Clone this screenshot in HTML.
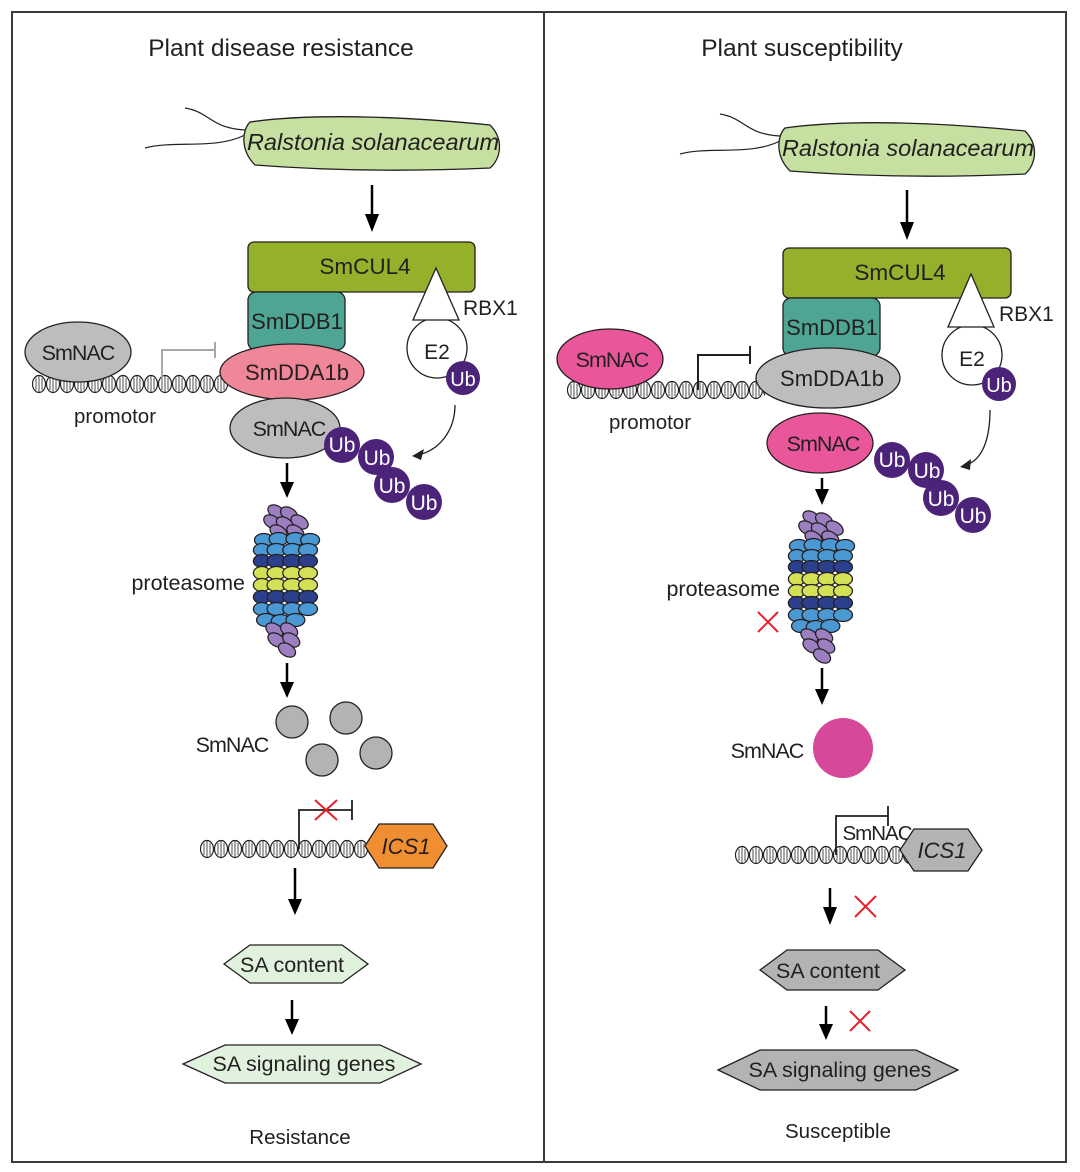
<!DOCTYPE html>
<html><head><meta charset="utf-8"><style>
html,body{margin:0;padding:0;background:#fff}
svg{display:block}
text{font-family:"Liberation Sans",Arial,sans-serif;fill:#231f20}
</style></head><body>
<svg width="1080" height="1172" viewBox="0 0 1080 1172" xmlns="http://www.w3.org/2000/svg">
<defs>
<pattern id="dna" x="0" y="0" width="14" height="22" patternUnits="userSpaceOnUse">
<rect width="14" height="22" fill="#fff"/>
<ellipse cx="7" cy="11" rx="6.5" ry="8.5" fill="#fff" stroke="#231f20" stroke-width="1.2"/>
<line x1="4" y1="5" x2="4" y2="17" stroke="#231f20" stroke-width="0.8"/>
<line x1="7" y1="3" x2="7" y2="19" stroke="#231f20" stroke-width="0.8"/>
<line x1="10" y1="5" x2="10" y2="17" stroke="#231f20" stroke-width="0.8"/>
</pattern>
<g id="prot" stroke="#231f20" stroke-width="1.2">
<g fill="#9b7fc0">
<ellipse cx="-10" cy="-68" rx="9" ry="6" transform="rotate(35 -10 -68)"/>
<ellipse cx="2" cy="-66" rx="9" ry="6" transform="rotate(35 2 -66)"/>
<ellipse cx="-14" cy="-58" rx="9" ry="6" transform="rotate(35 -14 -58)"/>
<ellipse cx="-2" cy="-56" rx="9" ry="6" transform="rotate(35 -2 -56)"/>
<ellipse cx="12" cy="-58" rx="9" ry="6" transform="rotate(35 12 -58)"/>
<ellipse cx="8" cy="-48" rx="9" ry="6" transform="rotate(35 8 -48)"/>
<ellipse cx="-8" cy="-48" rx="9" ry="6" transform="rotate(35 -8 -48)"/>
</g>
<g fill="#4a98d4">
<ellipse cx="-22" cy="-40" rx="9" ry="6.5"/><ellipse cx="-8" cy="-41" rx="9" ry="6.5"/><ellipse cx="8" cy="-41" rx="9" ry="6.5"/><ellipse cx="22" cy="-40" rx="9" ry="6.5"/>
<ellipse cx="-24" cy="-30" rx="8" ry="6.5"/><ellipse cx="-10" cy="-30" rx="9" ry="6.5"/><ellipse cx="5" cy="-30" rx="9" ry="6.5"/><ellipse cx="20" cy="-30" rx="9" ry="6.5"/>
</g>
<g fill="#2b3f8c">
<ellipse cx="-24" cy="-19" rx="8" ry="6.5"/><ellipse cx="-10" cy="-19" rx="9" ry="6.5"/><ellipse cx="5" cy="-19" rx="9" ry="6.5"/><ellipse cx="20" cy="-19" rx="9" ry="6.5"/>
</g>
<g fill="#d4e157">
<ellipse cx="-24" cy="-7" rx="8" ry="6.5"/><ellipse cx="-10" cy="-7" rx="9" ry="6.5"/><ellipse cx="5" cy="-7" rx="9" ry="6.5"/><ellipse cx="20" cy="-7" rx="9" ry="6.5"/>
<ellipse cx="-24" cy="5" rx="8" ry="6.5"/><ellipse cx="-10" cy="5" rx="9" ry="6.5"/><ellipse cx="5" cy="5" rx="9" ry="6.5"/><ellipse cx="20" cy="5" rx="9" ry="6.5"/>
</g>
<g fill="#2b3f8c">
<ellipse cx="-24" cy="17" rx="8" ry="6.5"/><ellipse cx="-10" cy="17" rx="9" ry="6.5"/><ellipse cx="5" cy="17" rx="9" ry="6.5"/><ellipse cx="20" cy="17" rx="9" ry="6.5"/>
</g>
<g fill="#4a98d4">
<ellipse cx="-24" cy="29" rx="8" ry="6.5"/><ellipse cx="-10" cy="29" rx="9" ry="6.5"/><ellipse cx="5" cy="29" rx="9" ry="6.5"/><ellipse cx="20" cy="29" rx="9" ry="6.5"/>
<ellipse cx="-20" cy="40" rx="9" ry="6.5"/><ellipse cx="-6" cy="41" rx="9" ry="6.5"/><ellipse cx="8" cy="40" rx="9" ry="6.5"/>
</g>
<g fill="#9b7fc0">
<ellipse cx="-12" cy="50" rx="9" ry="6" transform="rotate(35 -12 50)"/>
<ellipse cx="2" cy="50" rx="9" ry="6" transform="rotate(35 2 50)"/>
<ellipse cx="-10" cy="60" rx="9" ry="6" transform="rotate(35 -10 60)"/>
<ellipse cx="4" cy="60" rx="9" ry="6" transform="rotate(35 4 60)"/>
<ellipse cx="0" cy="70" rx="9" ry="6" transform="rotate(35 0 70)"/>
</g>
</g>
</defs>

<rect x="12" y="12" width="1054" height="1150" fill="none" stroke="#3a3a3a" stroke-width="2"/>
<line x1="544" y1="12" x2="544" y2="1162" stroke="#3a3a3a" stroke-width="2"/>

<!-- ============ LEFT ============ -->
<text x="281" y="56" font-size="24.5" text-anchor="middle">Plant disease resistance</text>
<path d="M145 148 C175 140 215 150 245 135 M185 108 C210 112 210 128 245 130" fill="none" stroke="#231f20" stroke-width="1.2"/>
<path d="M250 122 C320 112 420 118 490 125 C505 140 500 160 490 168 C400 172 320 170 255 165 C240 150 242 130 250 122 Z" fill="#c5e0a0" stroke="#231f20" stroke-width="1.3"/>
<text x="373" y="150" font-size="23.5" font-style="italic" text-anchor="middle">Ralstonia solanacearum</text>
<line x1="372" y1="185" x2="372" y2="218" stroke="#000" stroke-width="2.5"/><path d="M365 214 L379 214 L372 232 Z" fill="#000"/>

<rect x="248" y="242" width="227" height="50" rx="6" fill="#95b02b" stroke="#231f20" stroke-width="1.3"/>
<text x="365" y="274" font-size="22.5" text-anchor="middle">SmCUL4</text>
<rect x="248" y="292" width="97" height="58" rx="8" fill="#4ea594" stroke="#231f20" stroke-width="1.3"/>
<text x="297" y="329" font-size="22" text-anchor="middle">SmDDB1</text>
<circle cx="437" cy="348" r="30" fill="#fff" stroke="#231f20" stroke-width="1.3"/>
<text x="437" y="359" font-size="21" text-anchor="middle">E2</text>
<path d="M436 268 L459 320 L413 320 Z" fill="#fff" stroke="#231f20" stroke-width="1.3"/>
<text x="463" y="315" font-size="21">RBX1</text>
<circle cx="463" cy="378" r="17" fill="#4b2378"/>
<text x="463" y="386" font-size="20" text-anchor="middle" style="fill:#fff">Ub</text>

<g transform="translate(32,373)"><rect width="196" height="22" fill="url(#dna)"/></g>
<ellipse cx="78" cy="352" rx="53" ry="30" fill="#bdbdbd" stroke="#231f20" stroke-width="1.3"/>
<text x="78" y="360" font-size="21.5" text-anchor="middle" letter-spacing="-1">SmNAC</text>
<path d="M162 384 L162 350 L215 350 M215 342 L215 358" fill="none" stroke="#a8a8a8" stroke-width="2"/>
<text x="115" y="423" font-size="20.5" text-anchor="middle">promotor</text>
<ellipse cx="292" cy="372" rx="72" ry="28" fill="#ef8799" stroke="#231f20" stroke-width="1.3"/>
<text x="297" y="380" font-size="22" text-anchor="middle">SmDDA1b</text>
<ellipse cx="285" cy="428" rx="55" ry="30" fill="#bdbdbd" stroke="#231f20" stroke-width="1.3"/>
<text x="289" y="436" font-size="21.5" text-anchor="middle" letter-spacing="-1">SmNAC</text>
<g fill="#4b2378"><circle cx="342" cy="445" r="18"/><circle cx="376" cy="457" r="18"/><circle cx="392" cy="485" r="18"/><circle cx="424" cy="502" r="18"/></g>
<g font-size="21" text-anchor="middle"><text x="342" y="452" style="fill:#fff">Ub</text><text x="377" y="465" style="fill:#fff">Ub</text><text x="392" y="493" style="fill:#fff">Ub</text><text x="424" y="510" style="fill:#fff">Ub</text></g>
<path d="M455 405 C455 430 440 450 418 455" fill="none" stroke="#231f20" stroke-width="1.3"/>
<path d="M412 456 L424 449 L421 460 Z" fill="#231f20"/>

<line x1="287" y1="463" x2="287" y2="485" stroke="#000" stroke-width="2.5"/><path d="M280 482 L294 482 L287 498 Z" fill="#000"/>
<g transform="translate(287,580) scale(1.05,1)"><use href="#prot"/></g>
<text x="245" y="590" font-size="21.5" text-anchor="end">proteasome</text>
<line x1="287" y1="663" x2="287" y2="685" stroke="#000" stroke-width="2.5"/><path d="M280 682 L294 682 L287 698 Z" fill="#000"/>
<g fill="#b3b3b3" stroke="#231f20" stroke-width="1.3"><circle cx="292" cy="722" r="16"/><circle cx="346" cy="718" r="16"/><circle cx="322" cy="760" r="16"/><circle cx="376" cy="753" r="16"/></g>
<text x="232" y="752" font-size="21.5" text-anchor="middle" letter-spacing="-1">SmNAC</text>

<g transform="translate(200,838)"><rect width="175" height="22" fill="url(#dna)"/></g>
<path d="M299 849 L299 810 L352 810 M352 800 L352 820" fill="none" stroke="#231f20" stroke-width="1.8"/>
<path d="M315 800 L337 820 M337 800 L315 820" stroke="#e8202a" stroke-width="2"/>
<path d="M365 846 L379 824 L433 824 L447 846 L433 868 L379 868 Z" fill="#ef8f32" stroke="#231f20" stroke-width="1.3"/>
<text x="406" y="854" font-size="22" font-style="italic" text-anchor="middle">ICS1</text>
<line x1="295" y1="868" x2="295" y2="902" stroke="#000" stroke-width="2.5"/><path d="M288 899 L302 899 L295 915 Z" fill="#000"/>
<path d="M224 964 L250 945 L342 945 L368 964 L342 983 L250 983 Z" fill="#e0f2de" stroke="#231f20" stroke-width="1.3"/>
<text x="292" y="972" font-size="21.5" text-anchor="middle">SA content</text>
<line x1="292" y1="1000" x2="292" y2="1022" stroke="#000" stroke-width="2.5"/><path d="M285 1019 L299 1019 L292 1035 Z" fill="#000"/>
<path d="M183 1064 L225 1045 L380 1045 L421 1064 L380 1083 L225 1083 Z" fill="#e0f2de" stroke="#231f20" stroke-width="1.3"/>
<text x="304" y="1071" font-size="21.5" text-anchor="middle">SA signaling genes</text>
<text x="300" y="1144" font-size="20.5" text-anchor="middle">Resistance</text>

<!-- ============ RIGHT ============ -->
<text x="802" y="56" font-size="24.5" text-anchor="middle">Plant susceptibility</text>
<path d="M680 154 C710 146 750 156 780 141 M720 114 C745 118 745 134 780 136" fill="none" stroke="#231f20" stroke-width="1.2"/>
<path d="M785 128 C855 118 955 124 1025 131 C1040 146 1035 166 1025 174 C935 178 855 176 790 171 C775 156 777 136 785 128 Z" fill="#c5e0a0" stroke="#231f20" stroke-width="1.3"/>
<text x="908" y="156" font-size="23.5" font-style="italic" text-anchor="middle">Ralstonia solanacearum</text>
<line x1="907" y1="190" x2="907" y2="226" stroke="#000" stroke-width="2.5"/><path d="M900 222 L914 222 L907 240 Z" fill="#000"/>

<rect x="783" y="248" width="228" height="50" rx="6" fill="#95b02b" stroke="#231f20" stroke-width="1.3"/>
<text x="900" y="280" font-size="22.5" text-anchor="middle">SmCUL4</text>
<rect x="783" y="298" width="97" height="58" rx="8" fill="#4ea594" stroke="#231f20" stroke-width="1.3"/>
<text x="832" y="335" font-size="22" text-anchor="middle">SmDDB1</text>
<circle cx="972" cy="355" r="30" fill="#fff" stroke="#231f20" stroke-width="1.3"/>
<text x="972" y="366" font-size="21" text-anchor="middle">E2</text>
<path d="M971 274 L994 327 L948 327 Z" fill="#fff" stroke="#231f20" stroke-width="1.3"/>
<text x="999" y="321" font-size="21">RBX1</text>
<circle cx="999" cy="384" r="17" fill="#4b2378"/>
<text x="999" y="392" font-size="20" text-anchor="middle" style="fill:#fff">Ub</text>

<g transform="translate(567,379)"><rect width="198" height="22" fill="url(#dna)"/></g>
<ellipse cx="610" cy="359" rx="53" ry="30" fill="#e9579a" stroke="#231f20" stroke-width="1.3"/>
<text x="612" y="367" font-size="21.5" text-anchor="middle" letter-spacing="-1">SmNAC</text>
<path d="M698 390 L698 355 L750 355 M750 346 L750 364" fill="none" stroke="#231f20" stroke-width="2"/>
<text x="650" y="429" font-size="20.5" text-anchor="middle">promotor</text>
<ellipse cx="828" cy="378" rx="72" ry="30" fill="#bdbdbd" stroke="#231f20" stroke-width="1.3"/>
<text x="832" y="386" font-size="22" text-anchor="middle">SmDDA1b</text>
<ellipse cx="820" cy="443" rx="53" ry="30" fill="#e9579a" stroke="#231f20" stroke-width="1.3"/>
<text x="823" y="451" font-size="21.5" text-anchor="middle" letter-spacing="-1">SmNAC</text>
<g fill="#4b2378"><circle cx="892" cy="460" r="18"/><circle cx="926" cy="470" r="18"/><circle cx="941" cy="498" r="18"/><circle cx="973" cy="515" r="18"/></g>
<g font-size="21" text-anchor="middle"><text x="892" y="467" style="fill:#fff">Ub</text><text x="927" y="478" style="fill:#fff">Ub</text><text x="941" y="506" style="fill:#fff">Ub</text><text x="973" y="523" style="fill:#fff">Ub</text></g>
<path d="M990 410 C990 440 982 460 966 465" fill="none" stroke="#231f20" stroke-width="1.3"/>
<path d="M960 467 L971 459 L970 470 Z" fill="#231f20"/>

<line x1="822" y1="478" x2="822" y2="492" stroke="#000" stroke-width="2.5"/><path d="M815 489 L829 489 L822 505 Z" fill="#000"/>
<g transform="translate(822,586) scale(1.05,1)"><use href="#prot"/></g>
<text x="780" y="596" font-size="21.5" text-anchor="end">proteasome</text>
<path d="M758 612 L778 632 M778 612 L758 632" stroke="#e8202a" stroke-width="2"/>
<line x1="822" y1="668" x2="822" y2="692" stroke="#000" stroke-width="2.5"/><path d="M815 689 L829 689 L822 705 Z" fill="#000"/>
<circle cx="843" cy="748" r="30" fill="#d6489a"/>
<text x="767" y="758" font-size="21.5" text-anchor="middle" letter-spacing="-1">SmNAC</text>

<g transform="translate(735,844)"><rect width="175" height="22" fill="url(#dna)"/></g>
<path d="M836 855 L836 816 L888 816 M888 806 L888 826" fill="none" stroke="#231f20" stroke-width="1.8"/>
<text x="877" y="840" font-size="20.5" text-anchor="middle" letter-spacing="-1">SmNAC</text>
<path d="M900 850 L914 829 L968 829 L982 850 L968 871 L914 871 Z" fill="#b3b3b3" stroke="#231f20" stroke-width="1.3"/>
<text x="942" y="858" font-size="22" font-style="italic" text-anchor="middle">ICS1</text>
<line x1="830" y1="888" x2="830" y2="910" stroke="#000" stroke-width="2.5"/><path d="M823 907 L837 907 L830 925 Z" fill="#000"/>
<path d="M855 896 L876 917 M876 896 L855 917" stroke="#e8202a" stroke-width="2"/>
<path d="M760 970 L787 950 L878 950 L905 970 L878 990 L787 990 Z" fill="#b3b3b3" stroke="#231f20" stroke-width="1.3"/>
<text x="828" y="978" font-size="21.5" text-anchor="middle">SA content</text>
<line x1="826" y1="1006" x2="826" y2="1027" stroke="#000" stroke-width="2.5"/><path d="M819 1024 L833 1024 L826 1040 Z" fill="#000"/>
<path d="M850 1011 L870 1031 M870 1011 L850 1031" stroke="#e8202a" stroke-width="2"/>
<path d="M718 1070 L760 1050 L916 1050 L958 1070 L916 1090 L760 1090 Z" fill="#b3b3b3" stroke="#231f20" stroke-width="1.3"/>
<text x="840" y="1077" font-size="21.5" text-anchor="middle">SA signaling genes</text>
<text x="838" y="1138" font-size="20.5" text-anchor="middle">Susceptible</text>
</svg>
</body></html>
